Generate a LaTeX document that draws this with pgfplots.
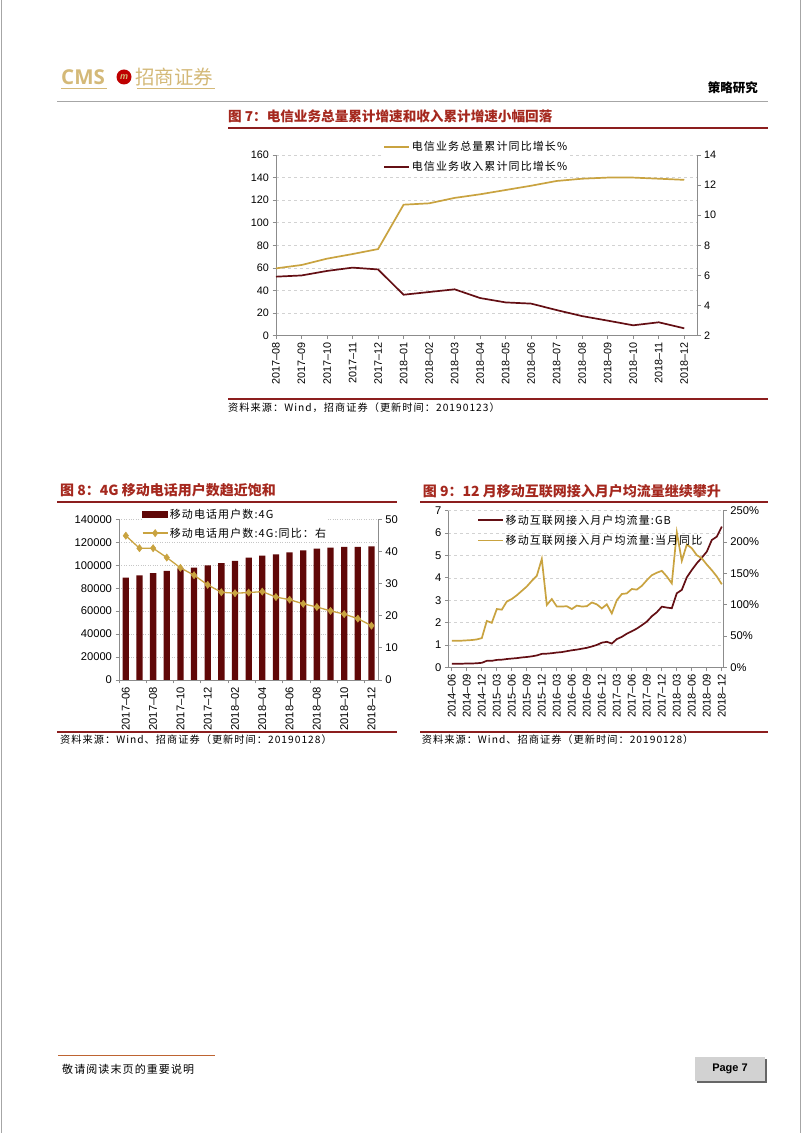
\documentclass[border=0pt]{standalone}
\usepackage{pgfplots}
\usepackage{pgfplotstable}
\pgfplotsset{compat=1.18}
\usepackage{fontspec}
\setmainfont{Liberation Sans}
\newfontfamily\cjk{Noto Sans CJK SC}
\newfontfamily\cjks{Noto Sans CJK SC}[LetterSpace=10]
\newfontfamily\opensans{Open Sans}
\definecolor{gold}{RGB}{201,163,64}
\definecolor{dred}{RGB}{100,15,20}
\definecolor{barc}{RGB}{96,8,8}
\definecolor{titred}{RGB}{165,40,30}
\definecolor{linered}{RGB}{140,30,30}
\definecolor{axgray}{RGB}{140,140,140}
\definecolor{logogold}{RGB}{212,185,120}
\definecolor{footline}{RGB}{190,100,50}

\pgfplotstableread{
x total income
0 59.6 5.92
1 62.6 6.00
2 68.2 6.30
3 72.3 6.52
4 76.7 6.40
5 116.0 4.72
6 117.2 4.90
7 122.0 5.08
8 125.2 4.50
9 129.0 4.21
10 132.8 4.13
11 137.0 3.70
12 139.0 3.30
13 140.0 3.00
14 140.0 2.69
15 139.0 2.89
16 138.0 2.49
}\telecom

\pgfplotstableread{
x users yoy
0 89100 44.9
1 91200 41.0
2 93200 41.0
3 95000 38.1
4 97300 34.9
5 97900 32.6
6 99900 29.6
7 101900 27.3
8 103700 27.0
9 106600 27.2
10 108300 27.5
11 109500 25.8
12 111200 25.0
13 113000 23.7
14 114400 22.7
15 115300 21.5
16 115900 20.5
17 115900 19.1
18 116500 16.9
}\fourg

\pgfplotstableread{
x gb yoy
0 0.16 42.5
1 0.16 42.5
2 0.16 42.5
3 0.17 43
4 0.17 43.5
5 0.18 44.5
6 0.20 46.5
7 0.29 74
8 0.29 71
9 0.33 93
10 0.34 92
11 0.37 105
12 0.39 109
13 0.41 115
14 0.44 122
15 0.46 129
16 0.49 138
17 0.53 146
18 0.60 173
19 0.61 99.5
20 0.63 109
21 0.66 97
22 0.68 97
23 0.72 97.5
24 0.76 93
25 0.79 98.5
26 0.83 97
27 0.87 97.5
28 0.93 103.5
29 1.00 100.5
30 1.10 94
31 1.14 100.5
32 1.06 86
33 1.26 107
34 1.36 117
35 1.50 118
36 1.61 125
37 1.73 124
38 1.88 130
39 2.04 139
40 2.28 147
41 2.46 151
42 2.71 154
43 2.67 145
44 2.64 134
45 3.31 215.5
46 3.46 170
47 4.02 196
48 4.35 190
49 4.65 179
50 4.90 174
51 5.17 164
52 5.69 155
53 5.84 145
54 6.29 132.5
}\traffic

\pgfplotsset{
  common/.style={
    scale only axis,
    tick align=outside,
    major tick length=3.5pt,
    axis line style={axgray, line width=0.8pt},
    tick style={axgray, line width=0.8pt},
    /pgf/number format/fixed,
    /pgf/number format/assume math mode=true,
    /pgf/number format/1000 sep={},
    scaled y ticks=false,
    tick label style={black},
    clip=false,
  },
  linelegend/.style={legend image code/.code={\draw[##1, line width=1.8pt] (0pt,0pt) -- (25pt,0pt);}},
  barlegend/.style={legend image code/.code={\fill[barc] (0pt,-3pt) rectangle (25pt,3pt);}},
  diamlegend/.style={legend image code/.code={\draw[mark repeat=2, mark phase=2, ##1] plot coordinates {(0pt,0pt) (12.5pt,0pt) (25pt,0pt)};}},
}

\begin{document}
\begin{tikzpicture}[x=1pt,y=1pt]
\useasboundingbox (0,0) rectangle (802,1133);
\fill[white] (0,0) rectangle (802,1133);
\draw[gray!70, line width=1pt] (1,0) -- (1,1133);
\draw[gray!70, line width=1pt] (800.5,0) -- (800.5,1133);

% header
\node[anchor=west, inner sep=0pt, text=logogold, font=\opensans\bfseries\fontsize{20.5}{21}\selectfont] at (61,1056) {CMS};
\fill[red!75!black] (124,1056) circle (7.5);
\node[inner sep=0pt, text=logogold, font=\bfseries\itshape\fontsize{9}{9}\selectfont] at (124,1056) {m};
\node[anchor=west, inner sep=0pt, text=logogold, font=\cjk\fontsize{19.5}{21}\selectfont] at (135,1056) {招商证券};
\draw[logogold, line width=0.8pt] (61,1045) -- (107,1045);
\draw[logogold, line width=0.8pt] (137,1045) -- (215,1045);
\node[anchor=east, inner sep=0pt, font=\cjk\bfseries\fontsize{12.5}{14}\selectfont] at (758,1045) {策略研究};
\draw[gray!70, line width=0.8pt] (57,1032) -- (768,1032);

% chart 7 decorations
\node[anchor=west, inner sep=0pt, text=titred, font=\cjk\bfseries\fontsize{13.6}{16}\selectfont] at (228,1017) {图 7：电信业务总量累计增速和收入累计增速小幅回落};
\draw[linered, line width=2pt] (228,1004.5) -- (768,1004.5);
\draw[linered, line width=1.2pt] (228,734) -- (768,734);
\node[anchor=west, inner sep=0pt, font=\cjks\fontsize{10.2}{12}\selectfont] at (228,725) {资料来源：Wind，招商证券（更新时间：20190123）};

% chart 8 / 9 decorations
\node[anchor=west, inner sep=0pt, text=titred, font=\cjk\bfseries\fontsize{14}{16}\selectfont] at (60,642.3) {图 8：4G 移动电话用户数趋近饱和};
\draw[linered, line width=2pt] (57,631.3) -- (397,631.3);
\node[anchor=west, inner sep=0pt, text=titred, font=\cjk\bfseries\fontsize{14}{16}\selectfont] at (422.7,642.3) {图 9：12 月移动互联网接入月户均流量继续攀升};
\draw[linered, line width=2pt] (420,631.3) -- (768,631.3);
\draw[linered, line width=1.2pt] (57,401) -- (397,401);
\draw[linered, line width=1.2pt] (420,401) -- (768,401);
\node[anchor=west, inner sep=0pt, font=\cjks\fontsize{10.2}{12}\selectfont] at (60,393) {资料来源：Wind、招商证券（更新时间：20190128）};
\node[anchor=west, inner sep=0pt, font=\cjks\fontsize{10.2}{12}\selectfont] at (421.7,393) {资料来源：Wind、招商证券（更新时间：20190128）};

% footer
\draw[footline, line width=0.8pt] (58,78) -- (215,78);
\node[anchor=west, inner sep=0pt, font=\cjks\fontsize{11}{12}\selectfont] at (62,64) {敬请阅读末页的重要说明};
\fill[gray!80!black] (697,50) rectangle (767,74);
\fill[gray!35] (695,52) rectangle (765,76);
\node[font=\bfseries\fontsize{11}{12}\selectfont] at (730,64) {Page 7};

% ===== chart 7 =====
\begin{axis}[common, at={(276pt,797.3pt)}, anchor=south west,
  width=421pt, height=180.7pt,
  xmin=0, xmax=16.5, ymin=0, ymax=160, ytick={0,20,...,160},
  axis x line*=bottom, axis y line*=left,
  xtick={0,...,16},
  xticklabels={2017--08,2017--09,2017--10,2017--11,2017--12,2018--01,2018--02,2018--03,2018--04,2018--05,2018--06,2018--07,2018--08,2018--09,2018--10,2018--11,2018--12},
  x tick label style={rotate=90, anchor=east, font=\fontsize{10.8}{12}\selectfont},
  y tick label style={font=\fontsize{10.8}{12}\selectfont},
  ymajorgrids, grid style={dashed, gray!35, line width=0.6pt},
]
\addplot[gold, line width=1.7pt] table[x=x, y=total] {\telecom};
\end{axis}
\begin{axis}[common, at={(276pt,797.3pt)}, anchor=south west,
  width=421pt, height=180.7pt,
  xmin=0, xmax=16.5, ymin=2, ymax=14, ytick={2,4,...,14},
  axis y line*=right, axis x line=none,
  y tick label style={font=\fontsize{10.8}{12}\selectfont},
  legend style={at={(axis description cs:0.255,1.085)}, anchor=north west, draw=none, fill=white,
    inner sep=0pt, row sep=6.5pt, font=\cjks\fontsize{11}{13}\selectfont, nodes={inner sep=1.5pt}},
  legend cell align=left,
]
\addlegendimage{gold, linelegend}
\addlegendentry{电信业务总量累计同比增长\%}
\addplot[dred, line width=1.7pt, linelegend] table[x=x, y=income] {\telecom};
\addlegendentry{电信业务收入累计同比增长\%}
\end{axis}

% ===== chart 8 =====
\begin{axis}[common, at={(119pt,453pt)}, anchor=south west,
  width=259.3pt, height=160.7pt,
  xmin=-0.5, xmax=18.5, ymin=0, ymax=140000, ytick={0,20000,...,140000},
  axis x line*=bottom, axis y line*=left,
  xtick={0,2,...,18}, major x tick style={draw=none},
  minor xtick={-0.5,1.5,...,17.5},
  minor tick length=3.5pt,
  xticklabels={2017--06,2017--08,2017--10,2017--12,2018--02,2018--04,2018--06,2018--08,2018--10,2018--12},
  x tick label style={rotate=90, anchor=east, font=\fontsize{11.2}{12}\selectfont},
  y tick label style={font=\fontsize{11.2}{12}\selectfont},
  ymajorgrids, grid style={dotted, gray!45, line width=0.7pt},
]
\addplot[ybar, bar width=6.3pt, fill=barc, draw=none] table[x=x, y=users] {\fourg};
\end{axis}
\begin{axis}[common, at={(119pt,453pt)}, anchor=south west,
  width=259.3pt, height=160.7pt,
  xmin=-0.5, xmax=18.5, ymin=0, ymax=50, ytick={0,10,...,50},
  axis y line*=right, axis x line=none,
  y tick label style={font=\fontsize{11.2}{12}\selectfont},
  legend style={at={(axis description cs:0.088,1.075)}, anchor=north west, draw=none, fill=white,
    inner sep=0pt, row sep=5pt, font=\cjks\fontsize{11}{13}\selectfont, nodes={inner sep=1.5pt}},
  legend cell align=left,
]
\addlegendimage{barlegend}
\addlegendentry{移动电话用户数:4G}
\addplot[gold, line width=1.3pt, mark=diamond*, mark size=3.6pt, mark options={fill=gold, draw=gold, line width=0.5pt}, diamlegend]
  table[x=x, y=yoy] {\fourg};
\addlegendentry{移动电话用户数:4G:同比：右}
\end{axis}

% ===== chart 9 =====
\begin{axis}[common, at={(448.3pt,465.7pt)}, anchor=south west,
  width=275pt, height=156.6pt,
  xmin=-0.7, xmax=54.3, ymin=0, ymax=7, ytick={0,1,...,7},
  axis x line*=bottom, axis y line*=left,
  xtick={0,3,...,54},
  xticklabels={2014--06,2014--09,2014--12,2015--03,2015--06,2015--09,2015--12,2016--03,2016--06,2016--09,2016--12,2017--03,2017--06,2017--09,2017--12,2018--03,2018--06,2018--09,2018--12},
  x tick label style={rotate=90, anchor=east, font=\fontsize{11.2}{12}\selectfont},
  y tick label style={font=\fontsize{11.2}{12}\selectfont},
  ymajorgrids, grid style={dashed, gray!35, line width=0.6pt},
]
\addplot[dred, line width=1.7pt] table[x=x, y=gb] {\traffic};
\end{axis}
\begin{axis}[common, at={(448.3pt,465.7pt)}, anchor=south west,
  width=275pt, height=156.6pt,
  xmin=-0.7, xmax=54.3, ymin=0, ymax=250, ytick={0,50,...,250},
  yticklabel={\pgfmathprintnumber{\tick}\%},
  axis y line*=right, axis x line=none,
  y tick label style={font=\fontsize{11.2}{12}\selectfont},
  legend style={at={(axis description cs:0.105,0.985)}, anchor=north west, draw=none, fill=none,
    inner sep=0pt, row sep=6.5pt, font=\cjks\fontsize{11}{13}\selectfont, nodes={inner sep=1.5pt}},
  legend cell align=left,
]
\addlegendimage{dred, linelegend}
\addlegendentry{移动互联网接入月户均流量:GB}
\addplot[gold, line width=1.7pt, linelegend] table[x=x, y=yoy] {\traffic};
\addlegendentry{移动互联网接入月户均流量:当月同比}
\end{axis}
\end{tikzpicture}
\end{document}
